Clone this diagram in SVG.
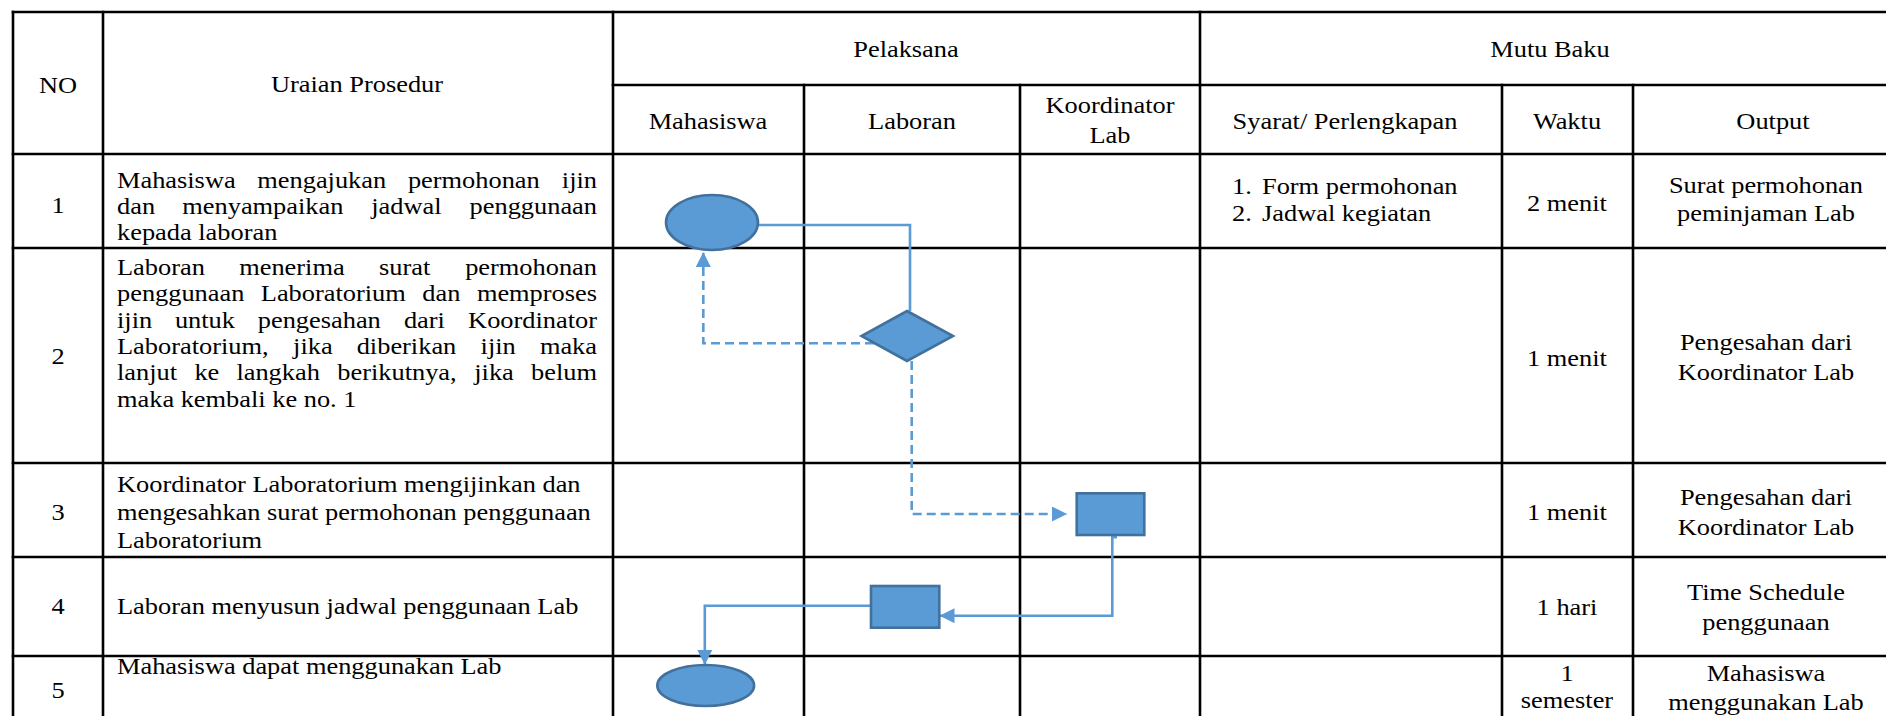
<svg xmlns="http://www.w3.org/2000/svg" width="1886" height="716" viewBox="0 0 1886 716">
<style>
.t{font-family:"Liberation Serif","Times New Roman",serif;font-size:23.5px;fill:#000}
.c{text-anchor:middle}
.e{text-anchor:end}
.grid line{stroke:#000;stroke-width:2.6;stroke-linecap:square}
.shape{fill:#5B9BD5;stroke:#41719C;stroke-width:2.6}
.conn{fill:none;stroke:#5B9BD5;stroke-width:2.6}
.dash{stroke-dasharray:9 5}
</style>
<defs>
<marker id="arr" markerUnits="userSpaceOnUse" markerWidth="16" markerHeight="16" refX="15" refY="7.5" orient="auto">
<path d="M0,0 L15,7.5 L0,15 Z" fill="#5B9BD5"/>
</marker>
</defs>
<rect width="1886" height="716" fill="#fff"/>
<g id="table" class="grid">
<line x1="13" y1="12" x2="1886" y2="12"/>
<line x1="613" y1="85" x2="1886" y2="85"/>
<line x1="13" y1="154" x2="1886" y2="154"/>
<line x1="13" y1="248" x2="1886" y2="248"/>
<line x1="13" y1="463" x2="1886" y2="463"/>
<line x1="13" y1="557" x2="1886" y2="557"/>
<line x1="13" y1="656" x2="1886" y2="656"/>
<line x1="13" y1="12" x2="13" y2="716"/>
<line x1="103" y1="12" x2="103" y2="716"/>
<line x1="613" y1="12" x2="613" y2="716"/>
<line x1="1200" y1="12" x2="1200" y2="716"/>
<line x1="804" y1="85" x2="804" y2="716"/>
<line x1="1020" y1="85" x2="1020" y2="716"/>
<line x1="1502" y1="85" x2="1502" y2="716"/>
<line x1="1633" y1="85" x2="1633" y2="716"/>
</g>
<g id="header" class="t" transform="scale(1.123 1)">
<text class="c" x="51.65" y="93">NO</text>
<text class="c" x="317.9" y="92">Uraian Prosedur</text>
<text class="c" x="806.77" y="57">Pelaksana</text>
<text class="c" x="1380.23" y="57">Mutu Baku</text>
<text class="c" x="630.45" y="129">Mahasiswa</text>
<text class="c" x="812.11" y="129">Laboran</text>
<text class="c" x="988.42" y="113">Koordinator</text>
<text class="c" x="988.42" y="143">Lab</text>
<text class="c" x="1197.68" y="129">Syarat/ Perlengkapan</text>
<text class="c" x="1395.37" y="129">Waktu</text>
<text class="c" x="1578.8" y="129">Output</text>
</g>
<g id="row1" class="t" transform="scale(1.123 1)">
<text class="c" x="51.65" y="213">1</text>
<text y="188"><tspan x="104.18">Mahasiswa</tspan><tspan x="229.12">mengajukan</tspan><tspan x="363.22">permohonan</tspan></text>
<text class="e" x="531.61" y="188">ijin</text>
<text y="214"><tspan x="104.18">dan</tspan><tspan x="162.33">menyampaikan</tspan><tspan x="330.54">jadwal</tspan></text>
<text class="e" x="531.61" y="214">penggunaan</text>
<text x="104.18" y="240">kepada laboran</text>
<text x="1097.06" y="194">1.</text>
<text x="1123.77" y="194">Form permohonan</text>
<text x="1097.06" y="221">2.</text>
<text x="1123.77" y="221">Jadwal kegiatan</text>
<text class="c" x="1395.37" y="211">2 menit</text>
<text class="c" x="1572.57" y="193">Surat permohonan</text>
<text class="c" x="1572.57" y="221">peminjaman Lab</text>
</g>
<g id="row2" class="t" transform="scale(1.123 1)">
<text class="c" x="51.65" y="364">2</text>
<text y="275"><tspan x="104.18">Laboran</tspan><tspan x="213">menerima</tspan><tspan x="337.58">surat</tspan></text>
<text class="e" x="531.61" y="275">permohonan</text>
<text y="301.3"><tspan x="104.18">penggunaan</tspan><tspan x="232.24">Laboratorium</tspan><tspan x="376.05">dan</tspan></text>
<text class="e" x="531.61" y="301.3">memproses</text>
<text y="327.6"><tspan x="104.18">ijin</tspan><tspan x="155.74">untuk</tspan><tspan x="229.56">pengesahan</tspan><tspan x="359.66">dari</tspan></text>
<text class="e" x="531.61" y="327.6">Koordinator</text>
<text y="354"><tspan x="104.18">Laboratorium,</tspan><tspan x="261">jika</tspan><tspan x="317.63">diberikan</tspan><tspan x="427.96">ijin</tspan></text>
<text class="e" x="531.61" y="354">maka</text>
<text y="380.3"><tspan x="104.18">lanjut</tspan><tspan x="173.11">ke</tspan><tspan x="210.51">langkah</tspan><tspan x="300.36">berikutnya,</tspan><tspan x="422.35">jika</tspan></text>
<text class="e" x="531.61" y="380.3">belum</text>
<text x="104.18" y="406.6">maka kembali ke no. 1</text>
<text class="c" x="1395.37" y="366">1 menit</text>
<text class="c" x="1572.57" y="350">Pengesahan dari</text>
<text class="c" x="1572.57" y="380">Koordinator Lab</text>
</g>
<g id="row3" class="t" transform="scale(1.123 1)">
<text class="c" x="51.65" y="520">3</text>
<text x="104.18" y="492">Koordinator Laboratorium mengijinkan dan</text>
<text x="104.18" y="520">mengesahkan surat permohonan penggunaan</text>
<text x="104.18" y="548">Laboratorium</text>
<text class="c" x="1395.37" y="520">1 menit</text>
<text class="c" x="1572.57" y="505">Pengesahan dari</text>
<text class="c" x="1572.57" y="535">Koordinator Lab</text>
</g>
<g id="row4" class="t" transform="scale(1.123 1)">
<text class="c" x="51.65" y="614">4</text>
<text x="104.18" y="614">Laboran menyusun jadwal penggunaan Lab</text>
<text class="c" x="1395.37" y="615">1 hari</text>
<text class="c" x="1572.57" y="600">Time Schedule</text>
<text class="c" x="1572.57" y="630">penggunaan</text>
</g>
<g id="row5" class="t" transform="scale(1.123 1)">
<text class="c" x="51.65" y="698">5</text>
<text x="104.18" y="674">Mahasiswa dapat menggunakan Lab</text>
<text class="c" x="1395.37" y="681">1</text>
<text class="c" x="1395.37" y="708">semester</text>
<text class="c" x="1572.57" y="681">Mahasiswa</text>
<text class="c" x="1572.57" y="710">menggunakan Lab</text>
</g>
<g id="connectors">
<path class="conn" d="M758,225 H910 V311"/>
<path class="conn dash" d="M874,343.3 H703.3 V252" marker-end="url(#arr)"/>
<path class="conn dash" d="M911.7,361 V514 H1067" marker-end="url(#arr)"/>
<path class="conn" d="M1117,537.3 H1112.3 V615.7 H939.5" marker-end="url(#arr)"/>
<path class="conn" d="M871,605.7 H704.8 V665" marker-end="url(#arr)"/>
</g>
<g id="n1-start"><ellipse class="shape" cx="712" cy="222.5" rx="46" ry="27.5"/></g>
<g id="n2-decision"><polygon class="shape" points="907,311 953,336 907,361 861.5,336"/></g>
<g id="n3-koordinator"><rect class="shape" x="1076.7" y="493.3" width="67.6" height="41.7"/></g>
<g id="n4-laboran"><rect class="shape" x="871" y="586" width="68.3" height="41.7"/></g>
<g id="n5-end"><ellipse class="shape" cx="705.7" cy="685.5" rx="48.4" ry="20.5"/></g>
</svg>
